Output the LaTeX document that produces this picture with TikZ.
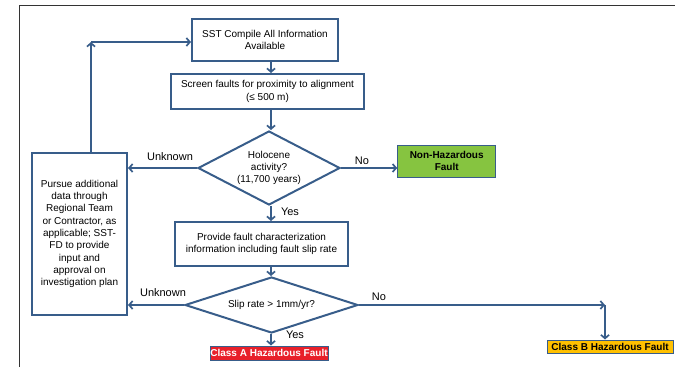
\documentclass[tikz,border=0pt]{standalone}
\usepackage{fontspec}
\setmainfont{Liberation Sans}
\usetikzlibrary{arrows.meta,shapes.geometric}
\definecolor{flowblue}{HTML}{385D8A}
\definecolor{faultgreen}{HTML}{86C440}
\definecolor{faultred}{HTML}{E8202A}
\definecolor{faultorange}{HTML}{FFC000}

\begin{document}
\begin{tikzpicture}[x=1pt,y=-1pt,
  >={Straight Barb[length=3.5pt,width=8pt]},
  every node/.style={font=\fontsize{10}{12.3}\selectfont},
  stepbox/.style={draw=flowblue,line width=2pt,fill=white,align=center,inner sep=0pt},
  choice/.style={diamond,draw=flowblue,line width=2pt,fill=white,align=center,inner sep=0pt},
  result/.style={draw=flowblue,line width=1pt,inner sep=0pt,font=\fontsize{10}{12}\selectfont\bfseries},
  flow/.style={->,draw=flowblue,line width=1.7pt},
  answer/.style={font=\fontsize{11}{13}\selectfont}]
\useasboundingbox (0,0) rectangle (675,367);
\draw [black!80,line width=1pt] (19,367) -- (19,5) -- (675,5);

\coordinate (spine) at (271,0);
\coordinate (loop) at (91,42);
\coordinate (bturn) at (605,305);

\node [stepbox,minimum width=146pt,minimum height=42pt] (compile) at (265,40)
  {SST Compile All Information\\Available};
\node [stepbox,minimum width=193pt,minimum height=35pt] (screen) at (267.5,91.5)
  {Screen faults for proximity to alignment\\(≤ 500 m)};
\node [choice,minimum width=142pt,minimum height=74pt,aspect=1.92] (holocene) at (269,168)
  {Holocene\\activity?\\(11,700 years)};
\node [result,fill=faultgreen,minimum width=98pt,minimum height=32pt,align=center] (nonhaz) at (446.7,161)
  {Non-Hazardous\\Fault};
\node [stepbox,minimum width=95pt,minimum height=162pt] (pursue) at (79.5,234)
  {Pursue additional\\data through\\Regional Team\\or Contractor, as\\applicable; SST-\\FD to provide\\input and\\approval on\\investigation plan};
\node [stepbox,minimum width=173pt,minimum height=44pt] (provide) at (261.5,244)
  {Provide fault characterization\\information including fault slip rate};
\node [choice,minimum width=173pt,minimum height=56pt,aspect=3.09] (sliprate) at (271.5,305)
  {Slip rate > 1mm/yr?};
\node [result,fill=faultred,text=white,minimum width=118pt,minimum height=14pt] (classA) at (269,353)
  {Class A Hazardous Fault};
\node [result,fill=faultorange,minimum width=126pt,minimum height=13pt] (classB) at (610,346.5)
  {Class B Hazardous Fault};

\draw [flow] (compile.south -| spine) -- (screen.north -| spine);
\draw [flow] (screen.south -| spine) -- (holocene.north -| spine);
\draw [flow] (holocene.west) -- (holocene.west -| pursue.east);
\node [answer] (unk1) at (170,157) {Unknown};
\draw [flow] (holocene.east) -- (holocene.east -| nonhaz.west);
\node [answer] (no1) at (362,161) {No};
\draw [flow] (holocene.south -| spine) -- (provide.north -| spine);
\node [answer] (yes1) at (290,212) {Yes};
\draw [flow] (provide.south -| spine) -- (sliprate.north -| spine);
\draw [flow] (sliprate.west) -- (sliprate.west -| pursue.east);
\node [answer] (unk2) at (163,293) {Unknown};
\draw [flow] (sliprate.east) -- (bturn);
\draw [flow] (bturn) -- (bturn |- classB.north);
\node [answer] (no2) at (379,297) {No};
\draw [flow] (sliprate.south -| spine) -- (classA.north -| spine);
\node [answer] (yes2) at (295,335) {Yes};
\draw [flow] (pursue.north -| loop) -- (loop);
\draw [flow] (loop) -- (loop -| compile.west);
\end{tikzpicture}
\end{document}
